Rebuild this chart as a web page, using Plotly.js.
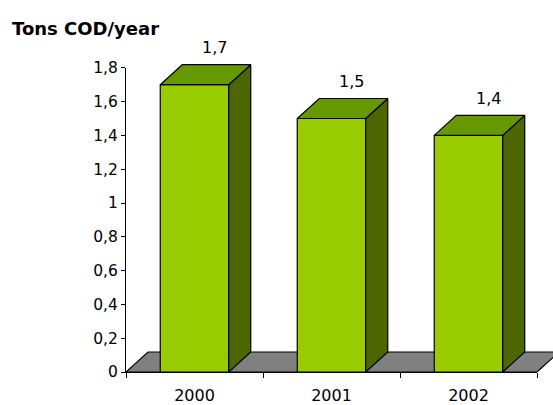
<!DOCTYPE html>
<html>
<head>
<meta charset="utf-8">
<script src="https://cdn.plot.ly/plotly-3.0.1.min.js"></script>
<style>html,body{margin:0;padding:0;background:#fff;}#chart{width:553px;height:405px;}</style>
</head>
<body>
<div id="chart"></div>
<script>
// ---- data ----
const years = ['2000', '2001', '2002'];
const values = [1.7, 1.5, 1.4];
const valueLabels = ['1,7', '1,5', '1,4'];
const yTickVals = [0, 0.2, 0.4, 0.6, 0.8, 1, 1.2, 1.4, 1.6, 1.8];
const yTickText = ['0', '0,2', '0,4', '0,6', '0,8', '1', '1,2', '1,4', '1,6', '1,8'];
const axisTitle = 'Tons COD/year';

// ---- style / geometry ----
const W = 553, H = 405;
const M = {l: 126, r: 0, t: 34, b: 33};
const catPx = 137;                 // pixel width of one category
const unitPx = 169;                // pixels per y unit
const plotW = W - M.l - M.r, plotH = H - M.t - M.b;
const xSpan = plotW / catPx;       // data units across drawing subplot
const ySpan = plotH / unitPx;
const yMax = yTickVals[yTickVals.length - 1];
const barW = 0.5;
const depthX = 22 / catPx;
const depthY = 20 / unitPx;
const FRONT = '#99CC00', SIDE = '#4D6600', TOP = '#669900', FLOOR = '#808080';
const FONT = 'DejaVu Sans, Verdana, sans-serif';

const poly = (xs, ys, color) => ({
  type: 'scatter', mode: 'lines', x: xs.concat([xs[0]]), y: ys.concat([ys[0]]),
  fill: 'toself', fillcolor: color, line: {color: '#000', width: 1.2},
  xaxis: 'x2', yaxis: 'y2', hoverinfo: 'skip', showlegend: false
});

const traces = [];
// dummy trace to build the visible axes
traces.push({type: 'scatter', mode: 'none', x: years, y: values, xaxis: 'x', yaxis: 'y',
  hoverinfo: 'skip', showlegend: false});

// floor
const n = years.length;
traces.push(poly([-0.5, n - 0.5, n - 0.5 + depthX, -0.5 + depthX], [0, 0, depthY, depthY], FLOOR));

values.forEach((v, i) => {
  const x0 = i - barW / 2, x1 = i + barW / 2;
  traces.push(poly([x0, x1, x1, x0], [0, 0, v, v], FRONT));
  traces.push(poly([x1, x1 + depthX, x1 + depthX, x1], [0, depthY, v + depthY, v], SIDE));
  traces.push(poly([x0, x1, x1 + depthX, x0 + depthX], [v, v, v + depthY, v + depthY], TOP));
});

const annotations = values.map((v, i) => ({
  xref: 'x2', yref: 'y2', x: i + depthX * 0.9, y: v + depthY, yanchor: 'middle', yshift: 17,
  text: valueLabels[i], showarrow: false, font: {family: FONT, size: 16, color: '#000'}
}));

const layout = {
  width: W, height: H, margin: M,
  paper_bgcolor: '#fff', plot_bgcolor: 'rgba(0,0,0,0)',
  showlegend: false,
  title: {text: '<b>' + axisTitle + '</b>', font: {family: FONT, size: 18, color: '#000'},
    xref: 'container', yref: 'container', x: 12 / W, xanchor: 'left', y: 1 - 29 / H, yanchor: 'middle'},
  xaxis: {type: 'category', categoryarray: years, range: [-0.5, n - 0.5],
    domain: [0, n / xSpan], anchor: 'y', tickson: 'boundaries', ticks: 'outside', ticklen: 5,
    tickcolor: '#000', showline: true, linecolor: '#000', linewidth: 1, showgrid: false, zeroline: false,
    tickfont: {family: FONT, size: 16, color: '#000'}, ticklabelstandoff: 9, fixedrange: true},
  yaxis: {range: [0, yMax], domain: [0, yMax / ySpan], anchor: 'x', tickmode: 'array',
    tickvals: yTickVals, ticktext: yTickText, ticks: 'outside', ticklen: 4, tickcolor: '#000',
    showline: true, linecolor: '#000', linewidth: 1, showgrid: false, zeroline: false,
    tickfont: {family: FONT, size: 15.5, color: '#000'}, fixedrange: true},
  xaxis2: {range: [-0.5, -0.5 + xSpan], domain: [0, 1], anchor: 'y2', visible: false, fixedrange: true},
  yaxis2: {range: [0, ySpan], domain: [0, 1], anchor: 'x2', visible: false, fixedrange: true},
  annotations: annotations
};

Plotly.newPlot('chart', traces, layout, {displayModeBar: false, staticPlot: true});
</script>
</body>
</html>
